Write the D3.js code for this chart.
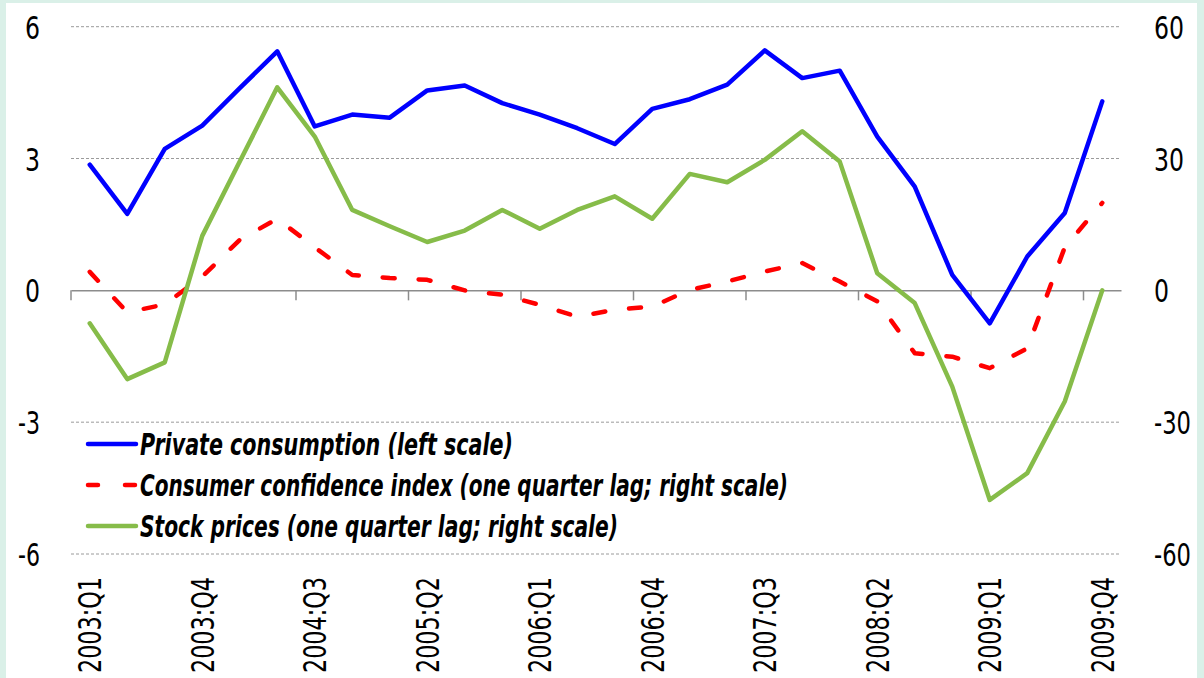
<!DOCTYPE html>
<html><head><meta charset="utf-8">
<script src="https://cdn.jsdelivr.net/npm/d3@7"></script>
<style>
html,body{margin:0;padding:0;background:#daf0e8;}
svg{display:block;}
</style></head>
<body>
<svg id="chart" width="1204" height="678"></svg>
<script>
const categories = ["2003:Q1","2003:Q2","2003:Q3","2003:Q4","2004:Q1","2004:Q2","2004:Q3","2004:Q4",
"2005:Q1","2005:Q2","2005:Q3","2005:Q4","2006:Q1","2006:Q2","2006:Q3","2006:Q4",
"2007:Q1","2007:Q2","2007:Q3","2007:Q4","2008:Q1","2008:Q2","2008:Q3","2008:Q4",
"2009:Q1","2009:Q2","2009:Q3","2009:Q4"];
const privateConsumption = [2.86,1.74,3.22,3.75,4.6,5.44,3.73,4.0,3.93,4.55,4.66,4.26,4.0,3.69,3.33,4.13,4.35,4.68,5.46,4.83,5.0,3.5,2.36,0.35,-0.75,0.77,1.76,4.3];
const consumerConfidence = [4.2,-5.0,-3.2,3.1,11.5,16.3,9.8,3.5,2.8,2.4,0.0,-1.0,-3.3,-6.0,-4.4,-3.7,0.1,2.0,4.3,6.2,2.0,-2.5,-14.3,-15.1,-17.7,-13.2,9.8,19.9];
const stockPrices = [-7.5,-20.2,-16.4,12.4,29.3,46.2,35.0,18.3,14.6,11.0,13.6,18.3,14.0,18.3,21.4,16.3,26.5,24.6,29.7,36.2,29.3,3.9,-2.9,-21.9,-47.7,-41.6,-25.3,0.0];
const leftTicks = [-6,-3,0,3,6];
const rightTicks = [-60,-30,0,30,60];
const legendLabels = ["Private consumption (left scale)","Consumer confidence index (one quarter lag; right scale)","Stock prices (one quarter lag; right scale)"];

const FONT = "'Liberation Sans Narrow','DejaVu Sans Condensed','Arial Narrow',sans-serif";
const svg = d3.select("#chart");
svg.append("rect").attr("x",6).attr("y",3).attr("width",1191).attr("height",675).attr("fill","#fff");

const x = d3.scaleBand().domain(categories).range([71,1121]).padding(0);
const yL = d3.scaleLinear().domain([-6,6]).range([554,26.7]);
const yR = d3.scaleLinear().domain([-60,60]).range([554,26.7]);
const cx = d => x(d) + x.bandwidth()/2;
const fmt = d => String(d);   // plain hyphen minus
const labW = d => { const s = fmt(d); let w = 0; for (const ch of s) w += (ch === "-" ? 7 : 15); return w; };

// gridlines
svg.append("g").selectAll("line").data(leftTicks.filter(t=>t!==0)).join("line")
  .attr("x1",71).attr("x2",1121).attr("y1",d=>yL(d)).attr("y2",d=>yL(d))
  .attr("stroke","#9a9a9a").attr("stroke-width",1).attr("stroke-dasharray","3,2");

// zero axis with ticks
const ax = svg.append("g").attr("transform",`translate(0,${yL(0)})`)
  .call(d3.axisBottom(x).tickValues([]).tickSizeOuter(0));
ax.select(".domain").attr("stroke","#8c8c8c").attr("stroke-width",1.5);
const tickBounds = categories.filter((c,i)=>i%3===0);
svg.append("g").selectAll("line").data(tickBounds).join("line")
  .attr("x1",d=>x(d)).attr("x2",d=>x(d)).attr("y1",yL(0)).attr("y2",yL(0)+10)
  .attr("stroke","#8c8c8c").attr("stroke-width",1.5);

// left labels
const lg = svg.append("g").attr("transform","translate(40,0)")
  .call(d3.axisLeft(yL).tickValues(leftTicks).tickFormat(fmt).tickSize(0).tickPadding(0));
lg.select(".domain").remove();
lg.selectAll("text").attr("font-family",FONT).attr("font-size",32).attr("fill","#000").attr("dy","0.36em")
  .attr("textLength",d=>labW(d)).attr("lengthAdjust","spacingAndGlyphs");
const rg = svg.append("g").attr("transform","translate(1154,0)")
  .call(d3.axisRight(yR).tickValues(rightTicks).tickFormat(fmt).tickSize(0).tickPadding(0));
rg.select(".domain").remove();
rg.selectAll("text").attr("font-family",FONT).attr("font-size",32).attr("fill","#000").attr("dy","0.36em")
  .attr("textLength",d=>labW(d)).attr("lengthAdjust","spacingAndGlyphs");

// x labels
svg.append("g").selectAll("text").data(categories.filter((c,i)=>i%3===0)).join("text")
  .attr("transform",d=>`translate(${cx(d)},577) rotate(-90)`)
  .attr("text-anchor","end").attr("dy","0.36em")
  .attr("font-family",FONT).attr("font-size",32).attr("fill","#000")
  .attr("textLength",96).attr("lengthAdjust","spacingAndGlyphs")
  .text(d=>d);

// lines
const lineL = d3.line().x((d,i)=>cx(categories[i])).y(d=>yL(d));
const lineR = d3.line().x((d,i)=>cx(categories[i])).y(d=>yR(d));
svg.append("path").datum(privateConsumption).attr("d",lineL).attr("fill","none")
  .attr("stroke","#0000ff").attr("stroke-width",4.5).attr("stroke-linejoin","round").attr("stroke-linecap","round");
svg.append("path").datum(consumerConfidence).attr("d",lineR).attr("fill","none")
  .attr("stroke","#ff0000").attr("stroke-width",4.5).attr("stroke-linejoin","round").attr("stroke-linecap","round")
  .attr("stroke-dasharray","12,24");
svg.append("path").datum(stockPrices).attr("d",lineR).attr("fill","none")
  .attr("stroke","#86bc49").attr("stroke-width",4.5).attr("stroke-linejoin","round").attr("stroke-linecap","round");

// legend
const legColors = ["#0000ff","#ff0000","#86bc49"];
const legY = [444,485,526];
const legW = [373,648,478];
const leg = svg.append("g");
legendLabels.forEach((t,i)=>{
  const l = leg.append("line").attr("x1",88).attr("x2",136).attr("y1",legY[i]).attr("y2",legY[i])
    .attr("stroke",legColors[i]).attr("stroke-width",4.5).attr("stroke-linecap","round");
  if(i===1) l.attr("stroke-dasharray","10,27");
  leg.append("text").attr("x",140).attr("y",legY[i]).attr("dy","0.36em")
    .attr("font-family",FONT).attr("font-size",30).attr("font-weight","bold").attr("font-style","italic")
    .attr("textLength",legW[i]).attr("lengthAdjust","spacingAndGlyphs").text(t);
});
</script>
</body></html>
